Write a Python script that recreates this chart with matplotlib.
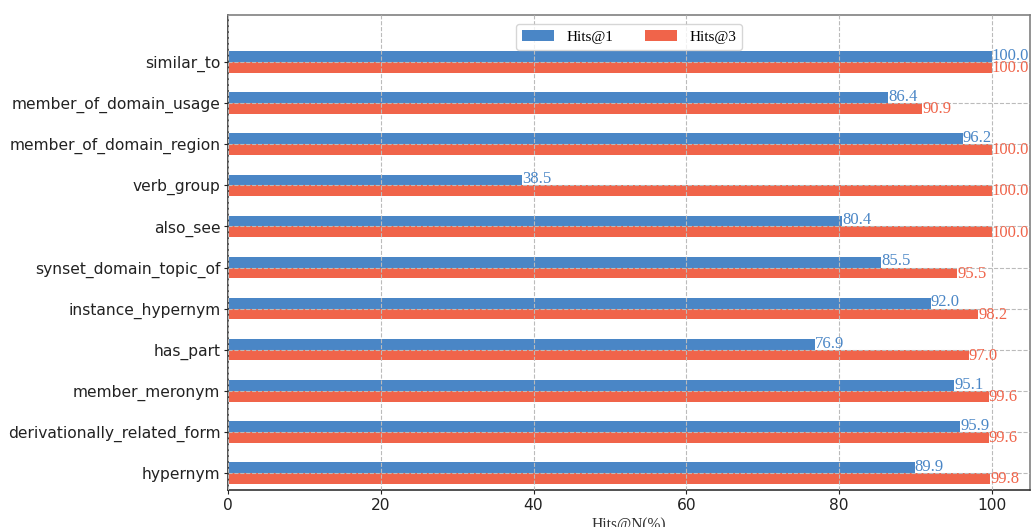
import matplotlib
matplotlib.use("Agg")
import matplotlib.pyplot as plt
import numpy as np

relations = [
    "hypernym",
    "derivationally_related_form",
    "member_meronym",
    "has_part",
    "instance_hypernym",
    "synset_domain_topic_of",
    "also_see",
    "verb_group",
    "member_of_domain_region",
    "member_of_domain_usage",
    "similar_to",
]
hits1 = [89.9, 95.9, 95.1, 76.9, 92.0, 85.5, 80.4, 38.5, 96.2, 86.4, 100.0]
hits3 = [99.8, 99.6, 99.6, 97.0, 98.2, 95.5, 100.0, 100.0, 100.0, 90.9, 100.0]

blue = "#4a86c6"
red = "#f0644a"
serif = ["Liberation Serif", "DejaVu Serif"]

fig = plt.figure(figsize=(10.31, 5.27), dpi=100)
ax = fig.add_axes([228 / 1031, 37 / 527, (1030 - 228) / 1031, (490 - 15) / 527])

y = np.arange(len(relations))
h = 0.26
ax.barh(y + h / 2, hits1, height=h, color=blue, label="Hits@1", zorder=1)
ax.barh(y - h / 2, hits3, height=h, color=red, label="Hits@3", zorder=1)

for yi, v in zip(y, hits1):
    ax.text(v, yi + h / 2 + 0.02, f"{v:.1f}", color=blue, fontsize=12,
            family=serif, ha="left", va="center", zorder=3)
for yi, v in zip(y, hits3):
    ax.text(v, yi - h / 2 - 0.02, f"{v:.1f}", color=red, fontsize=12,
            family=serif, ha="left", va="center", zorder=3)

ax.set_yticks(y)
ax.set_yticklabels(relations)
ax.set_xticks([0, 20, 40, 60, 80, 100])
ax.tick_params(axis="both", labelsize=11.2, colors="#222222",
               length=3, pad=2.5)
ax.set_xlim(0, 105)
ax.set_ylim(-0.41, 11.14)

ax.grid(True, linestyle="--", color="#bbbbbb", linewidth=0.8, zorder=2)
ax.set_axisbelow(False)

for side in ["top", "right"]:
    ax.spines[side].set_color("#808080")
    ax.spines[side].set_linewidth(1.2)
for side in ["left", "bottom"]:
    ax.spines[side].set_color("#333333")
    ax.spines[side].set_linewidth(1.2)

ax.set_xlabel("Hits@N(%)", family=serif, fontsize=11.2, color="#333333", labelpad=3)

leg = ax.legend(loc="upper center", ncol=2, prop={"family": serif, "size": 11},
                frameon=True, bbox_to_anchor=(0.5, 1.0), columnspacing=2.1,
                handlelength=2.1, handletextpad=0.8, borderaxespad=0.6)
leg.get_frame().set_edgecolor("#cccccc")

fig.savefig("out.png", dpi=100)
